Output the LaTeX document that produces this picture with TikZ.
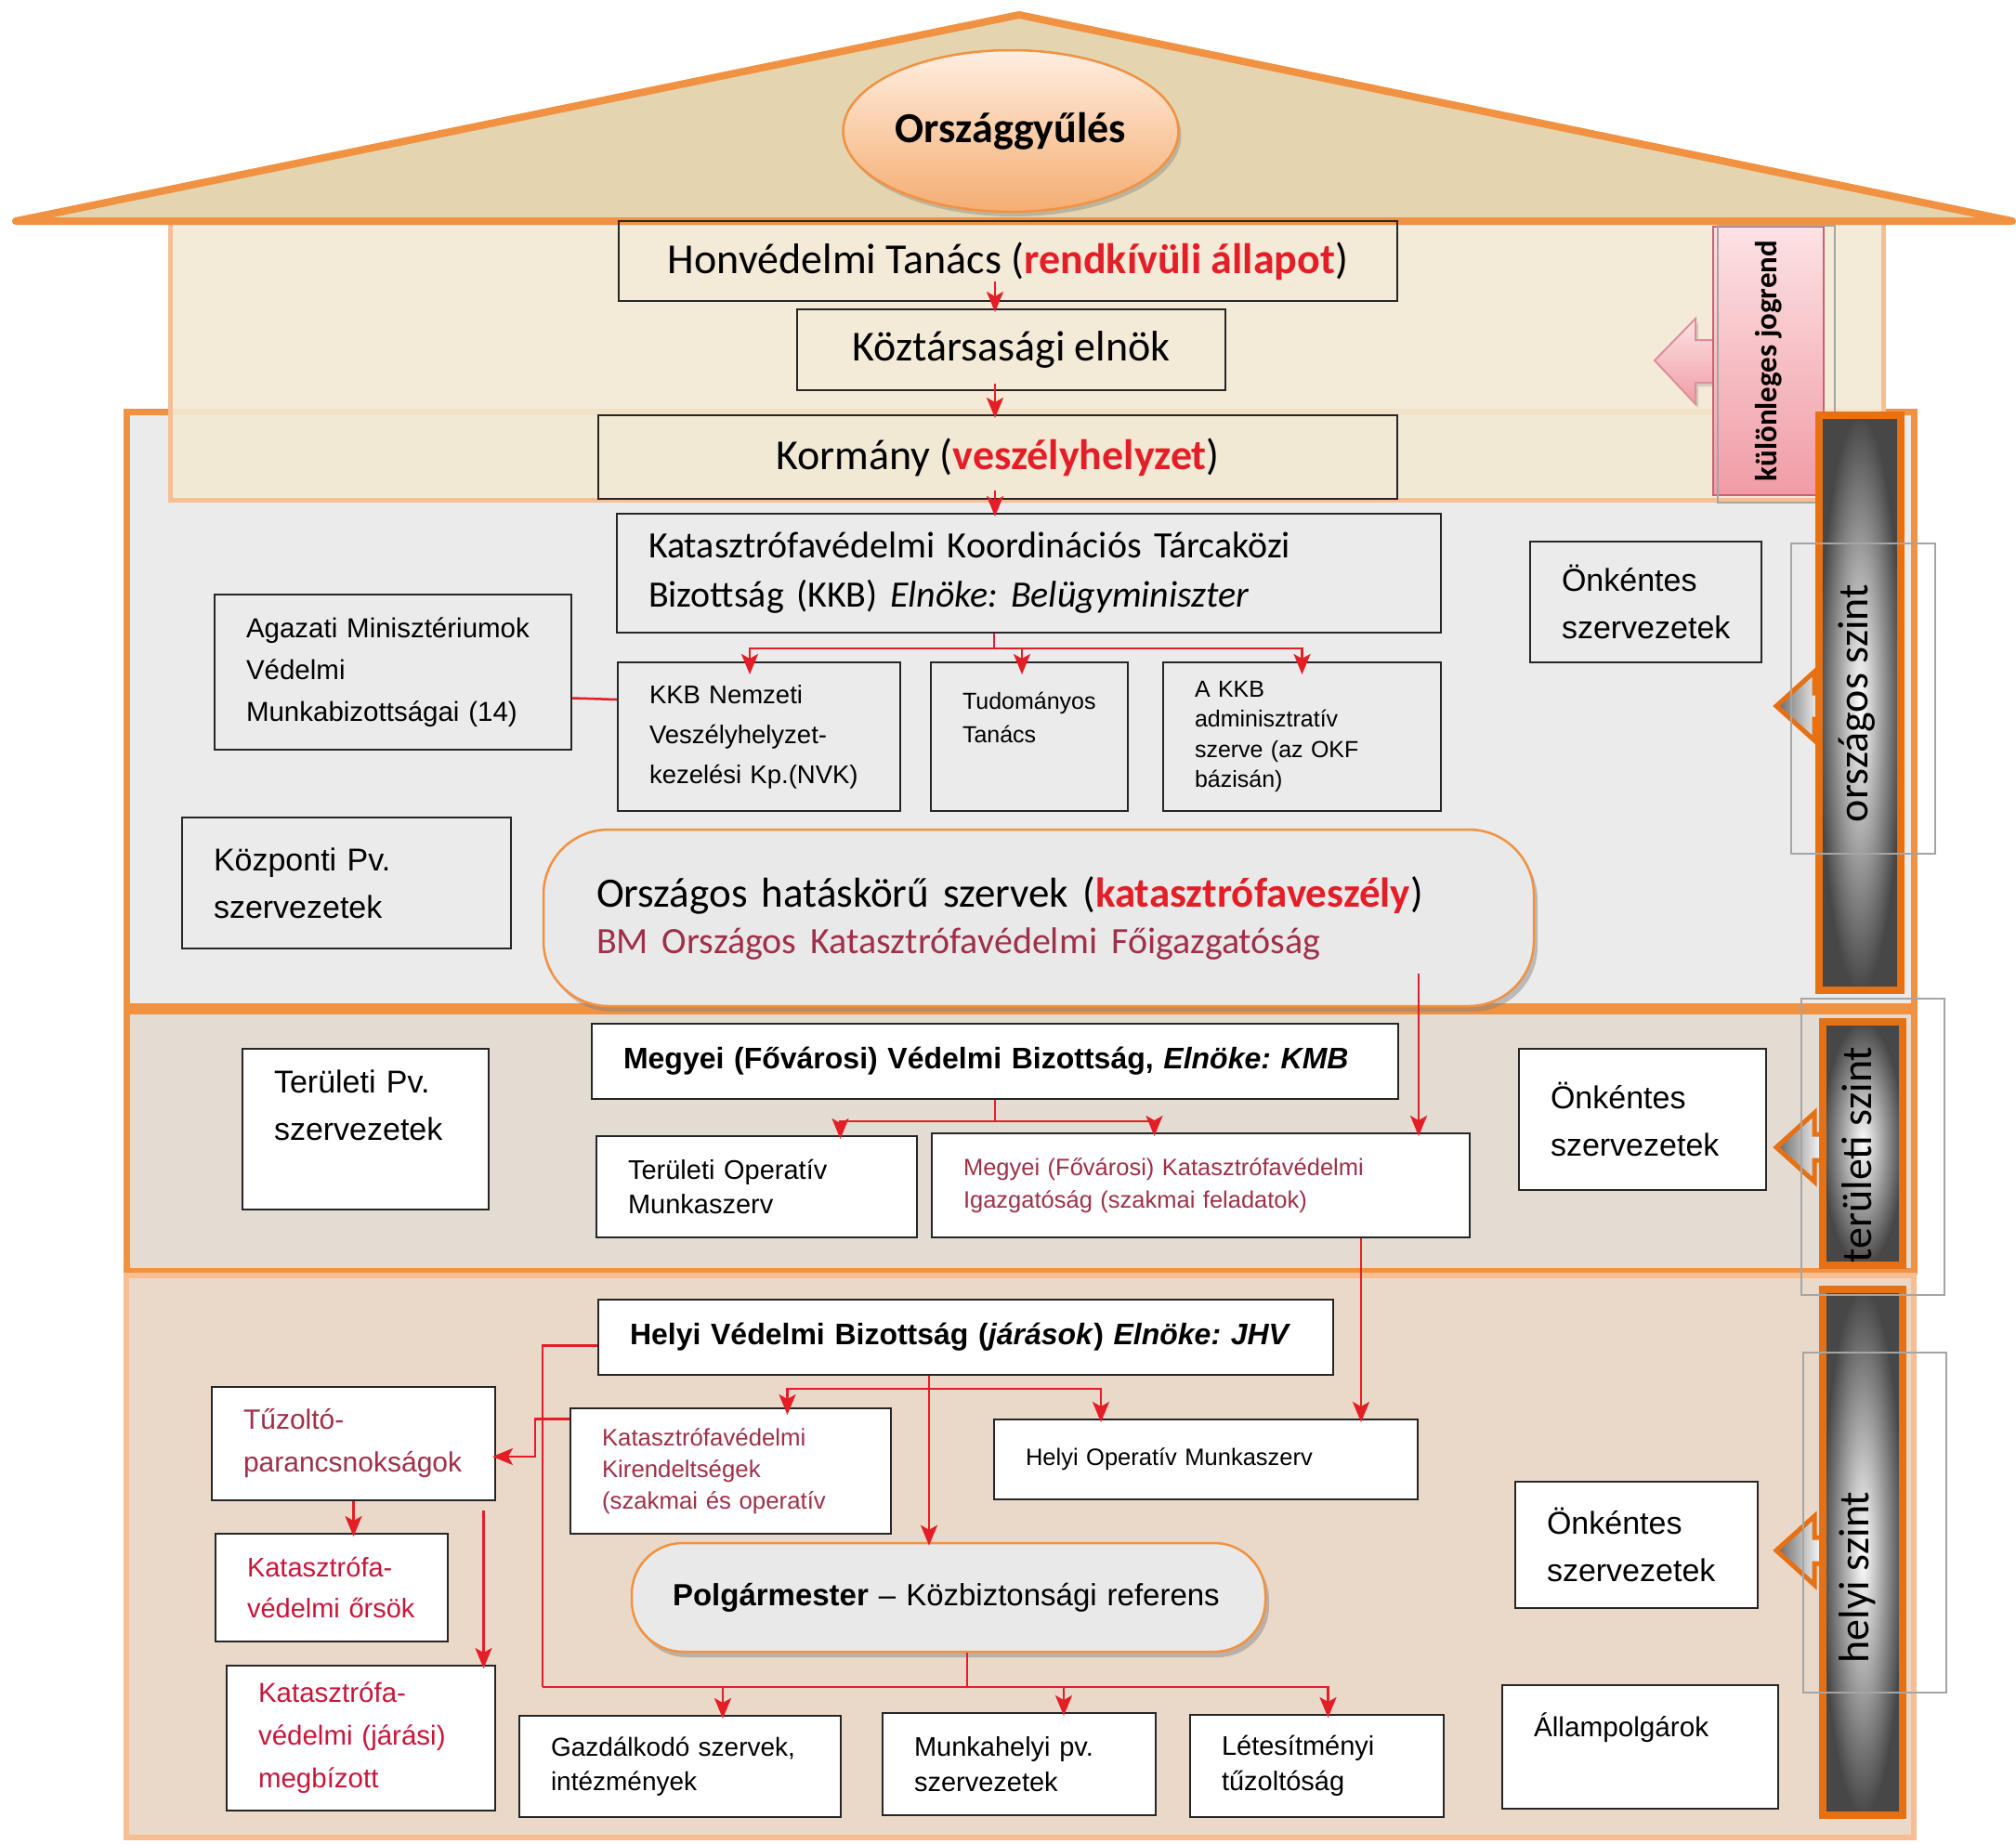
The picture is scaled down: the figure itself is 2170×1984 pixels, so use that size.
\documentclass[tikz,border=0pt]{standalone}
\usepackage{fontspec}
\usepackage{graphicx}
\setmainfont{Liberation Sans}
\newfontfamily\calibfont{Carlito}
\usetikzlibrary{
  arrows.meta,
  calc,
  shadows,
  shapes.geometric
}
\frenchspacing
\definecolor{orgOrange}{RGB}{241,146,66}
\definecolor{orgDeepOrange}{RGB}{230,112,20}
\definecolor{orgPeach}{RGB}{248,190,145}
\definecolor{orgRed}{RGB}{228,30,38}
\definecolor{orgRose}{RGB}{158,48,72}
\definecolor{orgCrimson}{RGB}{200,22,58}
\definecolor{orgRoof}{RGB}{228,213,176}
\definecolor{orgCream}{RGB}{243,233,212}
\definecolor{orgMarble}{RGB}{235,235,235}
\definecolor{orgPaper}{RGB}{227,220,211}
\definecolor{orgSand}{RGB}{234,217,201}
\definecolor{orgGranite}{RGB}{233,233,233}
\definecolor{orgPinkLight}{RGB}{252,226,228}
\definecolor{orgPinkDark}{RGB}{240,156,166}
\definecolor{orgPinkEdge}{RGB}{205,95,115}
\definecolor{orgGhostGray}{RGB}{165,165,165}
\tikzset{
  orgFlow/.style={
    -{Stealth[length=22pt,width=18pt,inset=5pt]},
    line width=2.5pt,
    draw=orgRed,
    shorten >=-4pt
  },
  orgLine/.style={
    line width=2.5pt,
    draw=orgRed
  },
  orgBox/.style={
    draw=black!85,
    line width=2pt,
    inner xsep=34pt,
    inner ysep=0pt,
    align=left
  },
  orgWhite/.style={
    orgBox,
    fill=white
  },
  orgHead/.style={
    draw=black!85,
    line width=2pt,
    inner sep=0pt,
    align=center,
    font=\calibfont\fontsize{46}{55}\selectfont
  },
  orgRound/.style={
    draw=orgOrange,
    line width=2.5pt,
    fill=orgGranite,
    inner ysep=0pt,
    align=left,
    drop shadow={shadow xshift=4pt, shadow yshift=-6pt, fill=black!50, opacity=0.45}
  },
  orgDome/.style={
    ellipse,
    draw=orgOrange,
    line width=2.5pt,
    top color=orgPinkLight!60!orange!25,
    bottom color=orgOrange!75,
    minimum width=308pt,
    minimum height=174pt,
    font=\calibfont\bfseries\fontsize{46}{55}\selectfont,
    drop shadow={shadow xshift=3pt, shadow yshift=-5pt, fill=black!50, opacity=0.4}
  },
  orgBar/.style={
    draw=orgDeepOrange,
    line width=8pt,
    inner color=white,
    outer color=black!72
  },
  orgPush/.style={
    draw=orgDeepOrange,
    line width=5pt,
    line join=miter,
    left color=black!60,
    right color=white
  },
  orgGhost/.style={
    draw=orgGhostGray,
    line width=1.5pt
  },
  orgSide/.style={
    rotate=90,
    inner sep=0pt,
    font=\calibfont\fontsize{46}{50}\selectfont
  },
  orgPinkBox/.style={
    draw=orgPinkEdge,
    line width=2pt,
    top color=orgPinkLight,
    bottom color=orgPinkDark,
    inner sep=0pt,
    minimum width=119pt,
    minimum height=289pt,
    font=\calibfont\bfseries\fontsize{33}{40}\selectfont
  },
  orgPinkArrow/.style={
    draw=orgPinkEdge!70,
    line width=2pt,
    top color=orgPinkLight,
    bottom color=orgPinkDark,
    drop shadow={shadow xshift=3pt, shadow yshift=-4pt, fill=black!40, opacity=0.35}
  }
}

\begin{document}
\begin{tikzpicture}[x=1pt,y=-1pt]
  \fill[white] (0,0) rectangle (2170,1984);

  % levels
  \draw[line width=7pt, draw=orgOrange, fill=orgMarble] (136,443) rectangle (2060,1083);
  \draw[line width=5pt, draw=orgPeach, fill=orgCream, fill opacity=0.92] (183,238) rectangle (2027,538);
  \draw[line width=8pt, draw=orgOrange, fill=orgRoof, line join=round]
    (17,238) -- (1097,16) -- (2166,238) -- cycle;
  \draw[line width=7pt, draw=orgOrange, fill=orgPaper] (136,1088) rectangle (2060,1368);
  \draw[line width=6pt, draw=orgPeach, fill=orgSand] (136,1373) rectangle (2060,1978);

  \node[orgDome] (parl) at (1088,141) {Országgyűlés};

  % special legal order
  \draw[orgPinkArrow] (1848,366) -- (1825,366) -- (1825,343) -- (1781,388)
    -- (1825,435) -- (1825,412) -- (1848,412) -- cycle;
  \node[orgPinkBox] (kulon) at (1903.5,388.5)
    {\rotatebox{90}{különleges jogrend}};
  \draw[orgGhost] (1849,243) rectangle (1975,541);

  % level bars
  \foreach \yc in {760,1235,1669} {
    \draw[orgPush] (1962,\yc-14) -- (1953,\yc-14) -- (1953,\yc-37) -- (1912,\yc)
      -- (1953,\yc+37) -- (1953,\yc+14) -- (1962,\yc+14);
  }
  \draw[orgBar] (1958,447) rectangle (2046,1066);
  \draw[orgBar] (1962,1100) rectangle (2048,1362);
  \draw[orgBar] (1962,1388) rectangle (2048,1954);
  \node[orgSide] (lvlNat) at (1999,757) {országos szint};
  \node[orgSide] (lvlReg) at (1999,1243) {területi szint};
  \node[orgSide] (lvlLoc) at (1999,1698) {helyi szint};
  \draw[orgGhost] (1928,585) rectangle (2083,919);
  \draw[orgGhost] (1939,1075) rectangle (2093,1394);
  \draw[orgGhost] (1941,1456) rectangle (2095,1822);

  % national level
  \node[orgHead, minimum width=838pt, minimum height=86pt] (hon) at (1085,281)
    {Honvédelmi Tanács (\textcolor{orgRed}{\textbf{rendkívüli állapot}})};
  \node[orgHead, minimum width=461pt, minimum height=87pt] (koz) at (1088.5,376.5)
    {Köztársasági elnök};
  \node[orgHead, minimum width=860pt, minimum height=90pt] (korm) at (1074,492)
    {Kormány (\textcolor{orgRed}{\textbf{veszélyhelyzet}})};
  \node[orgBox, text width=819pt, minimum height=128pt,
    font=\calibfont\fontsize{40}{53}\selectfont] (kkb) at (1107.5,617)
    {Katasztrófavédelmi Koordinációs Tárcaközi\\Bizottság (KKB) \textit{Elnöke: Belügyminiszter}};
  \node[orgBox, text width=236pt, minimum height=160pt,
    font=\fontsize{27.5}{43}\selectfont] (nvk) at (817,793)
    {KKB Nemzeti\\Veszélyhelyzet-\\kezelési Kp.(NVK)};
  \node[orgBox, text width=144pt, minimum height=160pt,
    font=\fontsize{25}{36}\selectfont] (tud) at (1108,793)
    {Tudományos\\Tanács\\\rule{0pt}{40pt}};
  \node[orgBox, text width=231pt, minimum height=160pt,
    font=\fontsize{25}{32.5}\selectfont] (adm) at (1401.5,793)
    {A KKB\\adminisztratív\\szerve (az OKF\\bázisán)};
  \node[orgBox, text width=316pt, minimum height=167pt,
    font=\fontsize{29.5}{45}\selectfont] (agaz) at (423,723.5)
    {Agazati Minisztériumok\\Védelmi\\Munkabizottságai (14)};
  \node[orgBox, text width=286pt, minimum height=141pt,
    font=\fontsize{34}{51}\selectfont] (kozp) at (373,950.5)
    {Központi Pv.\\szervezetek};
  \node[orgBox, text width=181pt, minimum height=130pt,
    font=\fontsize{34}{51}\selectfont] (onkNat) at (1771.5,648)
    {Önkéntes\\szervezetek};
  \node[orgRound, inner xsep=57pt, text width=952pt, minimum height=190pt,
    rounded corners=70pt, font=\calibfont\fontsize{45}{50}\selectfont] (orsz) at (1118,988)
    {Országos hatáskörű szervek (\textcolor{orgRed}{\textbf{katasztrófaveszély}})\\
     {\fontsize{40}{50}\selectfont\color{orgRose}BM Országos Katasztrófavédelmi Főigazgatóság}};

  % territorial level
  \node[orgWhite, text width=800pt, minimum height=81pt,
    font=\bfseries\fontsize{32}{40}\selectfont] (mvb) at (1071,1142.5)
    {Megyei (Fővárosi) Védelmi Bizottság, \textit{Elnöke: KMB}};
  \node[orgWhite, text width=197pt, minimum height=173pt,
    font=\fontsize{34}{51}\selectfont] (tpv) at (393.5,1215.5)
    {Területi Pv.\\szervezetek\\\rule{0pt}{40pt}};
  \node[orgWhite, text width=277pt, minimum height=109pt,
    font=\fontsize{29}{37}\selectfont] (tom) at (814.5,1277.5)
    {Területi Operatív\\Munkaszerv};
  \node[orgWhite, text width=511pt, minimum height=112pt, text=orgRose,
    font=\fontsize{25.5}{35}\selectfont] (mki) at (1292.5,1276)
    {Megyei (Fővárosi) Katasztrófavédelmi\\Igazgatóság (szakmai feladatok)};
  \node[orgWhite, text width=198pt, minimum height=152pt,
    font=\fontsize{34}{51}\selectfont] (onkReg) at (1768,1205)
    {Önkéntes\\szervezetek};

  % local level
  \node[orgWhite, text width=723pt, minimum height=81pt,
    font=\bfseries\fontsize{32}{40}\selectfont] (hvb) at (1039.5,1439.5)
    {Helyi Védelmi Bizottság (\textit{járások}) \textit{Elnöke: JHV}};
  \node[orgWhite, text width=237pt, minimum height=122pt, text=orgRose,
    font=\fontsize{30}{46}\selectfont] (tuz) at (380.5,1554)
    {Tűzoltó-\\parancsnokságok};
  \node[orgWhite, text width=277pt, minimum height=135pt, text=orgRose,
    font=\fontsize{25.8}{34}\selectfont] (kir) at (786.5,1583.5)
    {Katasztrófavédelmi\\Kirendeltségek\\(szakmai és operatív};
  \node[orgWhite, text width=388pt, minimum height=86pt,
    font=\fontsize{25.5}{32}\selectfont] (hom) at (1298,1571)
    {Helyi Operatív Munkaszerv};
  \node[orgWhite, text width=182pt, minimum height=116pt, text=orgCrimson,
    font=\fontsize{29}{44}\selectfont] (ors) at (357,1709)
    {Katasztrófa-\\védelmi őrsök};
  \node[orgRound, inner xsep=44pt, text width=594pt, minimum height=117pt,
    rounded corners=55pt, font=\fontsize{33}{40}\selectfont] (polg) at (1021,1719.5)
    {\textbf{Polgármester} – Közbiztonsági referens};
  \node[orgWhite, text width=193pt, minimum height=136pt,
    font=\fontsize{34}{51}\selectfont] (onkLoc) at (1761.5,1663)
    {Önkéntes\\szervezetek};
  \node[orgWhite, text width=221pt, minimum height=156pt, text=orgCrimson,
    font=\fontsize{29.5}{46}\selectfont] (meg) at (388.5,1871)
    {Katasztrófa-\\védelmi (járási)\\megbízott};
  \node[orgWhite, text width=278pt, minimum height=109pt,
    font=\fontsize{28}{37}\selectfont] (gaz) at (732,1901.5)
    {Gazdálkodó szervek,\\intézmények};
  \node[orgWhite, text width=226pt, minimum height=110pt,
    font=\fontsize{29}{38}\selectfont] (mun) at (1097,1899)
    {Munkahelyi pv.\\szervezetek};
  \node[orgWhite, text width=205pt, minimum height=110pt,
    font=\fontsize{29}{38}\selectfont] (let) at (1417.5,1901)
    {Létesítményi\\tűzoltóság};
  \node[orgWhite, text width=229pt, minimum height=133pt,
    font=\fontsize{29.7}{36}\selectfont] (allp) at (1765.5,1880.5)
    {Állampolgárok\\\rule{0pt}{40pt}};

  % connectors
  \coordinate (spineTop) at (1071,0);
  \draw[orgFlow] ($(hon.south -| spineTop)+(0,-22)$) -- (koz.north -| spineTop);
  \draw[orgFlow] ($(koz.south -| spineTop)+(0,-8)$) -- (korm.north -| spineTop);
  \draw[orgFlow] ($(korm.south -| spineTop)+(0,-10)$) -- (kkb.north -| spineTop);

  \coordinate (kkbFork) at (1070,698);
  \draw[orgLine] (kkb.south -| kkbFork) -- (kkbFork);
  \draw[orgFlow, shorten >=-14pt] (kkbFork) -| ([xshift=-10pt]nvk.north);
  \draw[orgFlow, shorten >=-14pt] (kkbFork) -| ([xshift=-8pt]tud.north);
  \draw[orgFlow, shorten >=-14pt] (kkbFork) -| (adm.north);
  \draw[orgLine] ([yshift=-28pt]agaz.east) -- ([yshift=40pt]nvk.west);

  \coordinate (orszOut) at (1527,1048);
  \draw[orgFlow] (orszOut) -- (orszOut |- mki.north);

  \coordinate (mvbFork) at (1071,1207);
  \draw[orgLine] (mvb.south -| mvbFork) -- (mvbFork);
  \draw[orgFlow] (mvbFork) -| ([xshift=90pt]tom.north);
  \draw[orgFlow] (mvbFork) -| ([xshift=-50pt]mki.north);

  \coordinate (mkiOut) at (1465,0);
  \draw[orgFlow] (mki.south -| mkiOut) -- (hom.north -| mkiOut);

  \coordinate (hvbFork) at (1000,1495);
  \draw[orgFlow] (hvb.south -| hvbFork) -- (polg.north -| hvbFork);
  \draw[orgFlow, shorten >=-8pt] (hvbFork) -| ([xshift=61pt]kir.north);
  \draw[orgFlow] (hvbFork) -| ([xshift=-113pt]hom.north);

  \coordinate (busWest) at (584,1816);
  \draw[orgLine] ([yshift=-9pt]hvb.west) -| (busWest);
  \draw[orgFlow] (busWest) -| ([xshift=46pt]gaz.north);
  \draw[orgFlow] (busWest) -| ([xshift=48pt]mun.north);
  \draw[orgFlow] (busWest) -| ([xshift=12pt]let.north);
  \draw[orgLine] ([xshift=20pt]polg.south) -- ([xshift=20pt]polg.south |- busWest);

  \draw[orgFlow] ([yshift=56pt]kir.west) -- ++(-37,0) |- ([yshift=-14pt]tuz.east);
  \draw[orgFlow] (tuz.south) -- (tuz.south |- ors.north);
  \coordinate (tuzDrop) at ($(tuz.south)+(140,10)$);
  \draw[orgFlow] (tuzDrop) -- (tuzDrop |- meg.north);
\end{tikzpicture}
\end{document}
